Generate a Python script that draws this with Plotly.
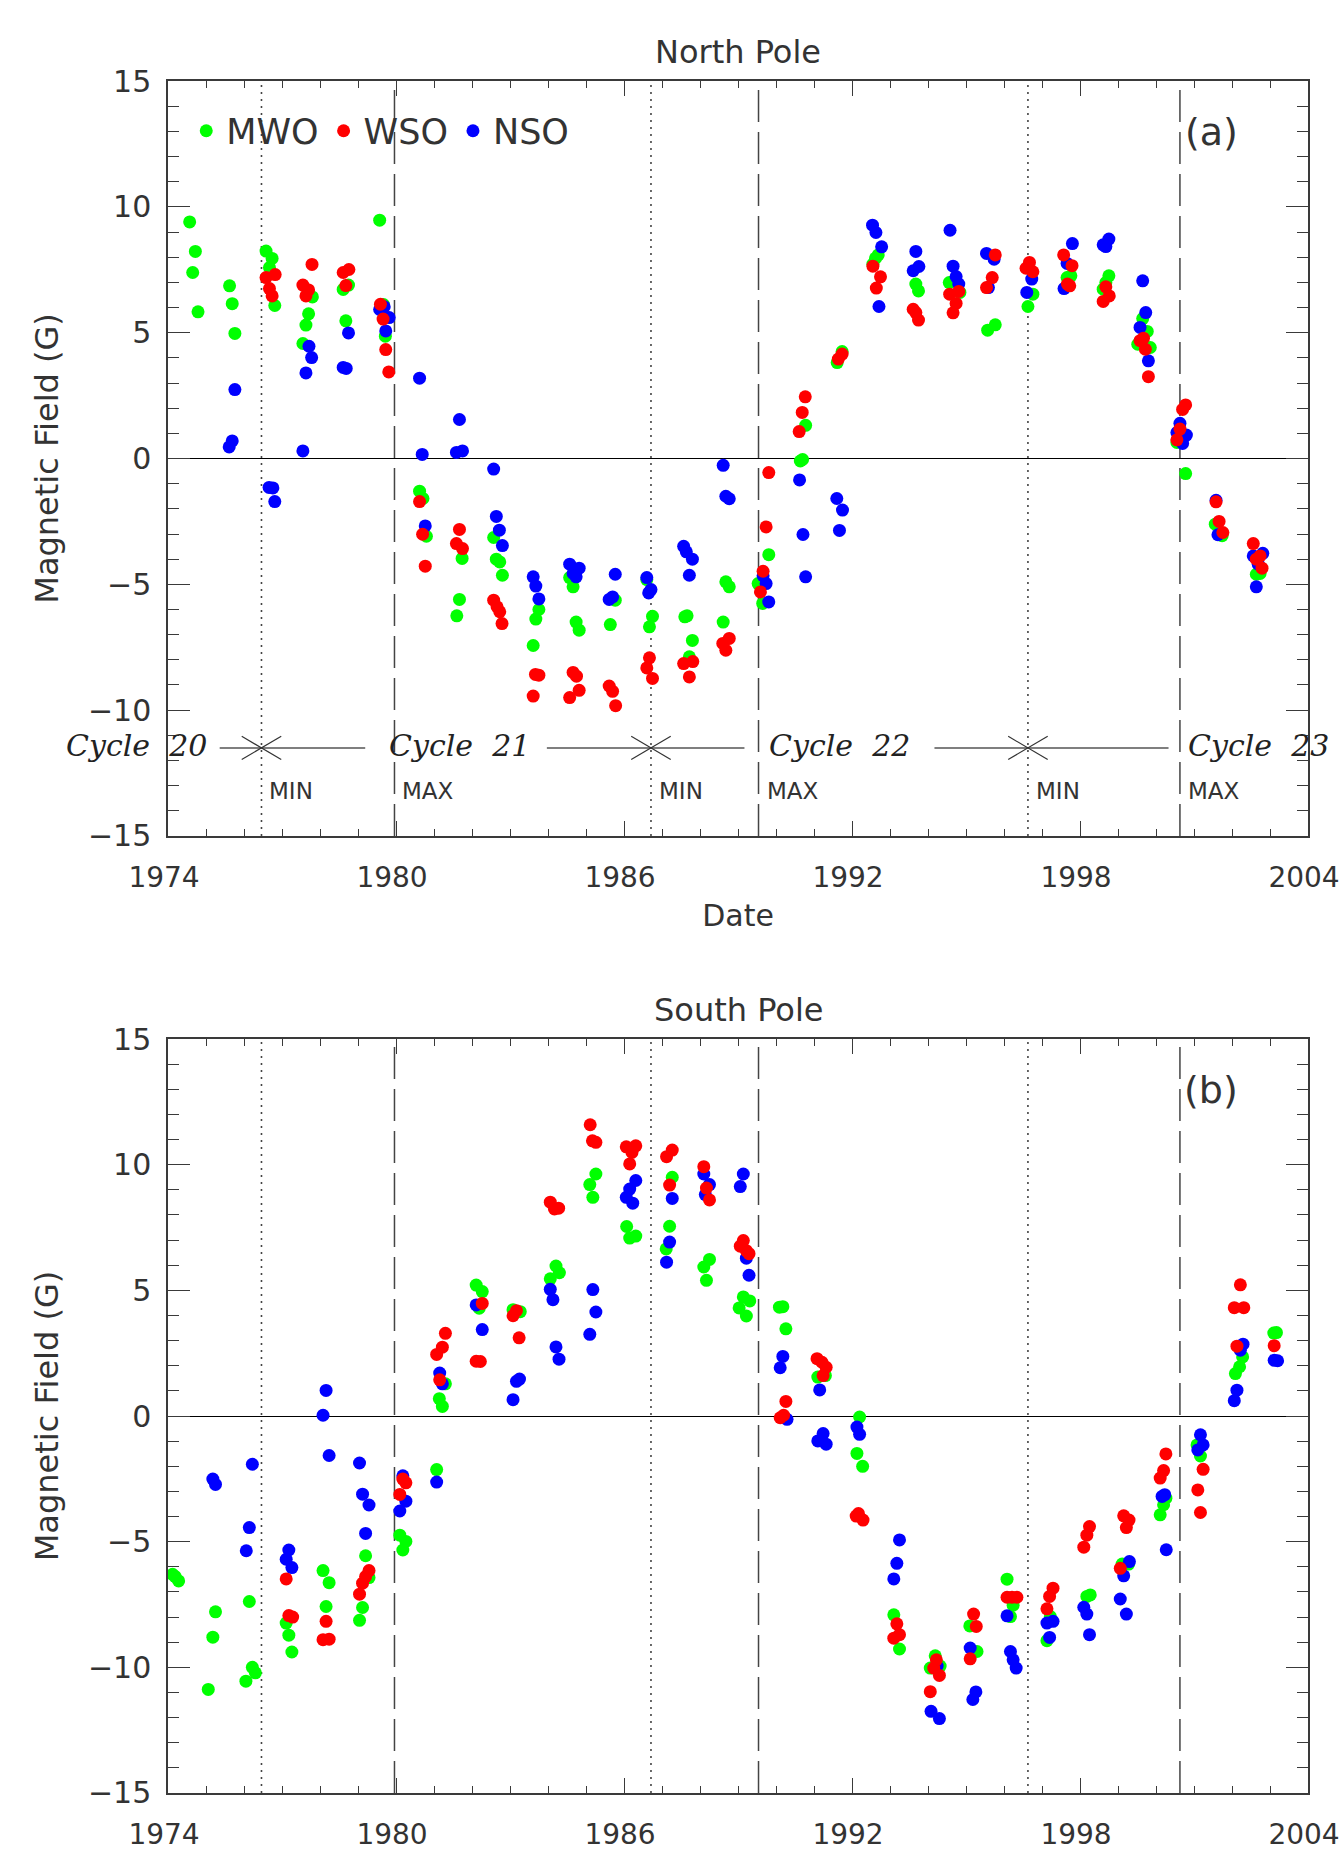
import plotly.graph_objects as go

# ---------------- data (year, field in Gauss) ----------------
north_mwo = [(1974.57,9.40),(1974.72,8.23),(1974.65,7.39),(1974.79,5.83),(1975.62,6.86),(1975.69,6.15),(1975.76,4.97),
             (1976.58,8.24),(1976.74,7.95),(1976.67,7.59),(1976.81,6.08),(1977.80,6.42),(1977.70,5.75),(1977.63,5.30),(1977.55,4.57),
             (1978.61,6.72),(1978.75,6.89),(1978.68,5.47),(1979.57,9.47),(1979.67,6.12),(1979.72,4.86),
             (1980.62,-1.30),(1980.71,-1.59),(1980.80,-3.09),(1981.74,-3.97),(1981.67,-5.60),(1981.60,-6.25),
             (1982.57,-3.14),(1982.64,-4.00),(1982.73,-4.11),(1982.80,-4.64),(1983.61,-7.43),(1983.68,-6.38),(1983.76,-6.00),
             (1984.57,-4.73),(1984.66,-5.10),(1984.74,-6.50),(1984.82,-6.82),(1985.77,-5.63),(1985.64,-6.60),
             (1986.60,-4.81),(1986.75,-6.27),(1986.67,-6.69),(1987.60,-6.29),(1987.66,-6.25),(1987.80,-7.23),(1987.72,-7.88),
             (1988.68,-4.90),(1988.77,-5.10),(1988.61,-6.50),(1989.53,-4.97),(1989.65,-5.76),(1989.81,-3.82),
             (1990.64,-0.10),(1990.70,-0.04),(1990.78,1.32),(1991.61,3.81),(1991.74,4.25),(1992.62,7.96),(1992.69,8.09),(1992.55,7.72),
             (1993.68,6.93),(1993.75,6.66),(1994.56,6.99),(1994.84,6.60),(1995.57,5.10),(1995.77,5.31),(1996.76,6.53),(1996.63,6.04),
             (1997.66,7.19),(1997.76,7.26),(1998.76,7.26),(1998.61,6.73),(1998.68,6.99),(1999.65,5.56),(1999.77,5.05),(1999.52,4.54),
             (1999.85,4.41),(2000.55,0.64),(2000.78,-0.60),(2001.56,-2.61),(2001.74,-3.07),(2002.64,-4.60),(2002.74,-4.57)]

north_wso = [(1976.58,7.19),(1976.82,7.31),(1976.67,6.75),(1976.74,6.46),(1977.79,7.71),(1977.55,6.89),(1977.70,6.70),(1977.63,6.46),
             (1978.61,7.39),(1978.76,7.51),(1978.68,6.87),(1979.59,6.13),(1979.66,5.54),(1979.73,4.33),(1979.81,3.44),
             (1980.62,-1.71),(1980.70,-3.01),(1980.77,-4.28),(1981.67,-2.82),(1981.59,-3.38),(1981.75,-3.58),
             (1982.57,-5.63),(1982.66,-5.89),(1982.73,-6.09),(1982.79,-6.56),(1983.67,-8.58),(1983.76,-8.61),(1983.61,-9.44),
             (1984.66,-8.50),(1984.75,-8.65),(1984.82,-9.21),(1984.57,-9.50),(1985.61,-9.04),(1985.70,-9.25),(1985.78,-9.82),
             (1986.67,-7.92),(1986.60,-8.32),(1986.75,-8.74),(1987.57,-8.15),(1987.81,-8.07),(1987.72,-8.68),
             (1988.77,-7.15),(1988.60,-7.35),(1988.68,-7.62),(1989.66,-4.48),(1989.59,-5.30),(1989.74,-2.72),(1989.81,-0.56),
             (1990.77,2.45),(1990.69,1.83),(1990.61,1.07),(1991.64,3.95),(1991.74,4.15),(1992.55,7.64),(1992.75,7.22),(1992.64,6.77),
             (1993.61,5.93),(1993.68,5.80),(1993.75,5.50),(1994.57,6.53),(1994.81,6.64),(1994.74,6.16),(1994.66,5.79),
             (1995.77,8.09),(1995.69,7.19),(1995.54,6.79),(1996.67,7.79),(1996.58,7.56),(1996.76,7.42),
             (1997.57,8.09),(1997.79,7.66),(1997.67,6.93),(1997.73,6.86),(1998.68,6.82),(1998.77,6.46),(1998.61,6.24),
             (1999.58,4.68),(1999.67,4.78),(1999.72,4.34),(1999.80,3.25),(2000.78,2.13),(2000.70,1.95),(2000.63,1.17),(2000.55,0.74),
             (2001.58,-1.72),(2001.66,-2.50),(2001.76,-2.94),(2002.56,-3.38),(2002.74,-3.87),(2002.64,-4.00),(2002.79,-4.36)]

north_nso = [(1975.76,2.74),(1975.69,0.70),(1975.61,0.46),(1977.55,0.30),(1977.71,4.46),(1977.78,4.01),(1977.63,3.40),
             (1978.61,3.62),(1978.69,3.58),(1978.75,4.99),(1979.57,5.92),(1979.69,6.03),(1979.82,5.60),(1979.73,5.07),
             (1980.62,3.19),(1981.67,1.55),(1980.69,0.16),(1981.59,0.24),(1981.75,0.30),(1982.57,-0.42),
             (1976.66,-1.15),(1976.76,-1.17),(1976.81,-1.71),(1980.77,-2.68),(1982.64,-2.30),(1982.72,-2.85),(1982.80,-3.46),
             (1983.61,-4.70),(1983.68,-5.07),(1983.76,-5.58),(1984.57,-4.20),(1984.82,-4.36),(1984.66,-4.57),(1984.74,-4.70),
             (1985.77,-4.60),(1985.61,-5.60),(1985.70,-5.50),(1986.60,-4.73),(1986.71,-5.21),(1986.65,-5.34),
             (1987.57,-3.49),(1987.64,-3.71),(1987.80,-4.00),(1987.72,-4.64),(1988.61,-0.27),(1988.68,-1.50),(1988.77,-1.60),
             (1989.66,-4.66),(1989.74,-4.97),(1989.81,-5.70),(1990.62,-0.85),(1990.71,-3.02),(1990.78,-4.70),
             (1991.60,-1.59),(1991.75,-2.05),(1991.67,-2.86),(1992.54,9.27),(1992.63,8.98),(1992.78,8.41),(1992.71,6.04),
             (1993.68,8.23),(1993.76,7.63),(1993.61,7.46),(1994.58,9.07),(1994.66,7.64),(1994.74,7.23),(1994.81,6.93),
             (1995.54,8.15),(1995.74,7.92),(1995.59,6.79),(1996.73,7.13),(1996.60,6.60),(1997.80,8.54),(1997.66,7.75),(1997.58,6.75),
             (1998.61,8.49),(1998.76,8.72),(1998.68,8.42),(1999.65,7.06),(1999.73,5.80),(1999.58,5.21),(1999.80,3.88),
             (2000.63,1.40),(2000.55,1.03),(2000.80,0.93),(2000.70,0.60),(2001.58,-1.66),(2001.63,-3.03),
             (2002.56,-3.87),(2002.81,-3.77),(2002.69,-4.20),(2002.64,-5.10)]

south_mwo = [(1974.12,-6.30),(1974.28,-6.56),(1974.19,-6.39),(1975.25,-7.79),(1975.18,-8.80),(1975.06,-10.88),
             (1976.14,-7.38),(1976.22,-10.00),(1976.30,-10.22),(1976.05,-10.55),(1977.11,-8.24),(1977.18,-8.72),(1977.26,-9.39),
             (1978.08,-6.15),(1978.24,-6.63),(1978.16,-7.58),(1979.20,-5.56),(1979.29,-6.43),(1979.12,-7.62),(1979.04,-8.13),
             (1980.10,-4.74),(1980.26,-4.99),(1980.18,-5.33),(1981.07,-2.13),(1981.14,0.69),(1981.22,0.38),(1981.30,1.28),
             (1982.11,5.21),(1982.27,4.95),(1982.19,4.29),(1983.08,4.23),(1983.27,4.15),(1984.21,5.97),(1984.30,5.70),(1984.06,5.46),
             (1985.26,9.63),(1985.10,9.21),(1985.18,8.70),(1986.07,7.54),(1986.15,7.08),(1986.31,7.16),
             (1987.27,9.50),(1987.20,7.55),(1987.11,6.65),(1988.25,6.23),(1988.10,5.93),(1988.17,5.40),
             (1989.14,4.74),(1989.31,4.58),(1989.03,4.30),(1989.22,3.98),(1990.09,4.33),(1990.18,4.35),(1990.26,3.47),
             (1991.10,1.55),(1991.30,1.61),(1992.20,-0.04),(1992.13,-1.49),(1992.28,-2.00),(1993.10,-7.91),(1993.25,-9.27),
             (1994.19,-9.54),(1994.06,-10.03),(1994.32,-9.95),(1995.10,-8.35),(1995.29,-9.37),(1996.08,-6.49),(1996.24,-7.53),
             (1996.17,-7.98),(1997.22,-7.98),(1997.13,-8.94),(1998.18,-7.18),(1998.27,-7.12),(1999.11,-5.89),(1999.28,-5.89),
             (2000.26,-3.27),(2000.20,-3.53),(2000.11,-3.93),(2001.08,-1.15),(2001.17,-1.59),
             (2002.28,2.35),(2002.20,1.96),(2002.09,1.69),(2003.17,3.32),(2003.10,3.30)]

south_wso = [(1977.11,-6.48),(1977.18,-7.94),(1977.28,-8.00),(1978.16,-8.17),(1978.08,-8.90),(1978.24,-8.88),
             (1979.29,-6.15),(1979.20,-6.39),(1979.12,-6.65),(1979.04,-7.09),(1980.18,-2.51),(1980.26,-2.66),(1980.10,-3.12),
             (1981.07,2.45),(1981.22,2.74),(1981.30,3.29),(1981.15,1.44),(1982.27,4.48),(1982.11,2.18),(1982.22,2.17),
             (1983.08,3.99),(1983.17,4.19),(1983.24,3.11),(1984.06,8.51),(1984.17,8.24),(1984.28,8.27),
             (1985.11,11.59),(1985.17,10.95),(1985.26,10.89),(1986.06,10.71),(1986.31,10.75),(1986.21,10.49),(1986.15,10.03),
             (1987.27,10.58),(1987.12,10.32),(1987.20,9.19),(1988.10,9.92),(1988.17,9.07),(1988.25,8.60),
             (1989.14,6.98),(1989.06,6.76),(1989.29,6.46),(1989.22,6.58),(1990.26,0.58),(1990.11,-0.07),(1990.20,0.03),
             (1991.08,2.28),(1991.21,2.14),(1991.32,1.94),(1991.24,1.61),(1992.17,-3.88),(1992.29,-4.14),(1992.11,-3.98),
             (1993.18,-8.27),(1993.25,-8.70),(1993.10,-8.84),(1994.22,-9.70),(1994.15,-10.03),(1994.30,-10.32),(1994.06,-10.97),
             (1995.20,-7.88),(1995.27,-8.37),(1995.11,-9.66),(1996.08,-7.21),(1996.21,-7.21),(1996.34,-7.21),
             (1997.29,-6.85),(1997.20,-7.18),(1997.13,-7.67),(1998.25,-4.40),(1998.18,-4.74),(1998.10,-5.22),
             (1999.15,-3.97),(1999.29,-4.14),(1999.22,-4.44),(1999.06,-6.06),(2000.26,-1.51),(2000.20,-2.17),(2000.11,-2.47),
             (2001.24,-2.12),(2001.10,-2.94),(2001.17,-3.84),(2002.22,5.22),(2002.06,4.31),(2002.31,4.31),(2002.13,2.78),
             (2003.11,2.80)]

south_nso = [(1975.18,-2.51),(1975.25,-2.72),(1976.22,-1.92),(1976.14,-4.44),(1976.06,-5.36),(1977.18,-5.33),(1977.11,-5.70),
             (1977.26,-6.03),(1978.16,1.02),(1978.08,0.03),(1978.24,-1.57),(1979.04,-1.87),(1979.12,-3.11),(1979.29,-3.54),
             (1979.20,-4.67),(1980.18,-2.38),(1980.26,-3.39),(1980.10,-3.78),(1981.07,-2.63),(1981.15,1.71),(1981.22,1.28),
             (1982.11,4.42),(1982.27,3.44),(1983.17,1.38),(1983.25,1.47),(1983.08,0.65),(1984.06,5.04),(1984.13,4.63),
             (1984.21,2.75),(1984.29,2.26),(1985.18,5.03),(1985.26,4.14),(1985.10,3.25),(1986.31,9.37),(1986.15,9.03),
             (1986.06,8.70),(1986.23,8.47),(1987.27,8.66),(1987.20,6.92),(1987.12,6.12),(1988.10,9.63),(1988.25,9.21),
             (1988.14,8.81),(1989.14,9.63),(1989.06,9.13),(1989.22,6.28),(1989.29,5.60),(1990.18,2.37),(1990.11,1.92),
             (1990.29,-0.13),(1991.15,1.04),(1991.24,-0.70),(1991.10,-0.99),(1991.32,-1.12),(1992.13,-0.44),(1992.20,-0.73),
             (1993.25,-4.93),(1993.18,-5.86),(1993.10,-6.48),(1994.08,-11.75),(1994.30,-12.04),(1994.24,-9.95),
             (1995.11,-9.23),(1995.26,-10.98),(1995.18,-11.28),(1996.08,-7.95),(1996.17,-9.37),(1996.24,-9.70),(1996.32,-10.03),
             (1997.29,-8.17),(1997.13,-8.24),(1997.20,-8.81),(1998.10,-7.61),(1998.18,-7.88),(1998.25,-8.70),
             (1999.30,-5.79),(1999.15,-6.36),(1999.06,-7.28),(1999.22,-7.88),(2000.16,-3.20),(2000.23,-3.13),(2000.27,-5.32),
             (2001.17,-0.75),(2001.24,-1.15),(2001.10,-1.35),(2002.29,2.86),(2002.22,2.62),(2002.13,1.03),(2002.06,0.61),
             (2003.11,2.22),(2003.20,2.20)]

# solar cycle epochs
min_years = [1976.46, 1986.71, 1996.63]
max_years = [1979.96, 1989.54, 2000.63]
cycle_names = ["Cycle 20", "Cycle 21", "Cycle 22", "Cycle 23"]
cycle_label_x = [1975.05, 1979.80, 1989.80, 2000.82]
cycle_label_anchor = ["right", "left", "left", "left"]
cycle_seg_start = [1975.36, 1983.97, 1994.17]
cycle_seg_end = [1979.19, 1989.17, 2000.33]

x_ticks = [1974, 1980, 1986, 1992, 1998, 2004]
observatories = ["MWO", "WSO", "NSO"]
colors = {"MWO": "#00ff00", "WSO": "#ff0000", "NSO": "#0000ff"}

# ---------------- styling constants ----------------
FONT = "DejaVu Sans"
TXT = "#333333"
AXC = "#3a3a3a"
CYCLE_Y = -11.5
MINMAX_Y = -13.2
MSIZE = 13

fig = go.Figure()

panels = [("x", "y", {"MWO": north_mwo, "WSO": north_wso, "NSO": north_nso}, True),
          ("x2", "y2", {"MWO": south_mwo, "WSO": south_wso, "NSO": south_nso}, False)]
draw_order = ["MWO", "NSO", "WSO"]
rank = {"MWO": 1, "WSO": 2, "NSO": 3}
for xa, ya, series, show in panels:
    for name in draw_order:
        pts = series[name]
        fig.add_trace(go.Scatter(
            x=[p[0] for p in pts], y=[p[1] for p in pts], mode="markers", name=name,
            marker=dict(color=colors[name], size=MSIZE, line=dict(width=0)),
            xaxis=xa, yaxis=ya, showlegend=show, legendrank=rank[name]))

axis_common = dict(showline=True, linecolor=AXC, linewidth=1.5, mirror="ticks", showgrid=False,
                   ticks="inside", tickcolor=AXC, tickwidth=1.2, automargin=False)
xcommon = dict(axis_common, range=[1974, 2004], tickvals=x_ticks, ticklen=15, zeroline=False,
               minor=dict(dtick=1, ticks="inside", ticklen=7, tickcolor=AXC, tickwidth=1.2),
               ticklabelstandoff=16, ticklabeloverflow="allow", ticklabelshift=-4,
               tickfont=dict(family=FONT, size=28, color=TXT))
ycommon = dict(axis_common, range=[-15, 15], dtick=5, ticklen=22, zeroline=True, zerolinecolor="#000000",
               zerolinewidth=1.2,
               minor=dict(dtick=1, ticks="inside", ticklen=11, tickcolor=AXC, tickwidth=1.2),
               ticklabelstandoff=9, tickfont=dict(family=FONT, size=30, color=TXT),
               title=dict(text="Magnetic Field (G)", font=dict(family=FONT, size=32, color=TXT), standoff=20))

fig.update_layout(
    width=1342, height=1852, autosize=False,
    margin=dict(l=168, r=34, t=81, b=59, autoexpand=False),
    paper_bgcolor="white", plot_bgcolor="white",
    font=dict(family=FONT, color=TXT),
    xaxis=dict(xcommon, anchor="y", domain=[0, 1],
               title=dict(text="Date", font=dict(family=FONT, size=30, color=TXT), standoff=12)),
    yaxis=dict(ycommon, anchor="x", domain=[0.559, 1.0]),
    xaxis2=dict(xcommon, anchor="y2", domain=[0, 1]),
    yaxis2=dict(ycommon, anchor="x2", domain=[0.0, 0.4404]),
    legend=dict(orientation="h", x=0.016, y=0.9708, xanchor="left", yanchor="middle",
                font=dict(family=FONT, size=35, color=TXT), bgcolor="rgba(0,0,0,0)",
                itemwidth=30, itemsizing="trace", traceorder="normal"),
    showlegend=True,
)

shapes = []
for xa, ya in [("x", "y"), ("x2", "y2")]:
    for yr in min_years:
        shapes.append(dict(type="line", xref=xa, yref=f"{ya} domain", x0=yr, x1=yr, y0=0, y1=1,
                           line=dict(color="#444444", width=1.6, dash="2px,5px"), layer="below"))
    for yr in max_years:
        shapes.append(dict(type="line", xref=xa, yref=f"{ya} domain", x0=yr, x1=yr, y0=0, y1=1,
                           line=dict(color="#444444", width=1.5, dash="32px,10px"), layer="below"))
# cycle band (top panel)
for s, e in zip(cycle_seg_start, cycle_seg_end):
    shapes.append(dict(type="line", xref="x", yref="y", x0=s, x1=e, y0=CYCLE_Y, y1=CYCLE_Y,
                       line=dict(color="#555555", width=1.5)))
for yr in min_years:
    for dy in (0.46, -0.46):
        shapes.append(dict(type="line", xref="x", yref="y", x0=yr - 0.52, x1=yr + 0.52,
                           y0=CYCLE_Y + dy, y1=CYCLE_Y - dy, line=dict(color="#333333", width=1.2)))
fig.update_layout(shapes=shapes)

ann = []
for name, xpos, anc in zip(cycle_names, cycle_label_x, cycle_label_anchor):
    ann.append(dict(text="<i>" + name.replace(" ", "\u00a0 ") + "</i>", x=xpos, y=CYCLE_Y + 0.1, xref="x", yref="y",
                    xanchor=anc, yanchor="middle", showarrow=False, borderpad=0,
                    font=dict(family="DejaVu Serif", size=30, color="#222222")))
for yr in min_years:
    ann.append(dict(text="MIN", x=yr, y=MINMAX_Y, xref="x", yref="y", xanchor="left", yanchor="middle",
                    xshift=6, showarrow=False, font=dict(family=FONT, size=23, color=TXT)))
for yr in max_years:
    ann.append(dict(text="MAX", x=yr, y=MINMAX_Y, xref="x", yref="y", xanchor="left", yanchor="middle",
                    xshift=6, showarrow=False, font=dict(family=FONT, size=23, color=TXT)))
for label, ya in [("North Pole", "y"), ("South Pole", "y2")]:
    xa = "x" if ya == "y" else "x2"
    ann.append(dict(text=label, x=0.5, y=1, xref=f"{xa} domain", yref=f"{ya} domain",
                    xanchor="center", yanchor="bottom", yshift=8, showarrow=False,
                    font=dict(family=FONT, size=32, color=TXT)))
for label, ya in [("(a)", "y"), ("(b)", "y2")]:
    xa = "x" if ya == "y" else "x2"
    ann.append(dict(text=label, x=0.915, y=0.933, xref=f"{xa} domain", yref=f"{ya} domain",
                    xanchor="center", yanchor="middle", showarrow=False,
                    font=dict(family=FONT, size=38, color=TXT)))
fig.update_layout(annotations=ann)

# page setup: no body margin and nothing spilling past the figure edge
post = ("document.body.style.margin='0px';"
        "document.documentElement.style.overflow='hidden';"
        "document.body.style.overflow='hidden';"
        "var gd=document.getElementById('{plot_id}'); gd.style.overflow='hidden';")
fig.write_html("out.html", post_script=post,
               config={"displayModeBar": False, "responsive": False})
